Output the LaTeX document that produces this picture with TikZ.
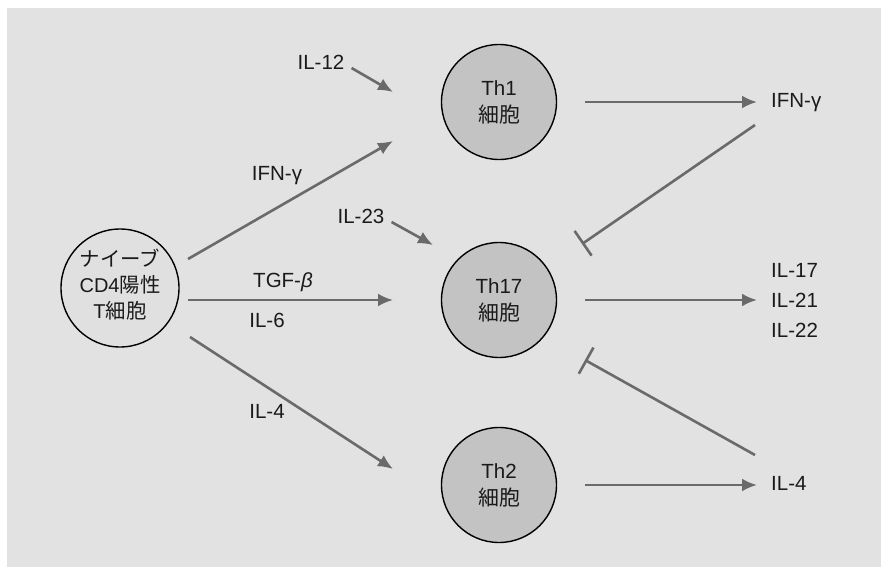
\documentclass[tikz,border=0pt]{standalone}
\usepackage{fontspec}
\setmainfont{Liberation Sans}
\newfontfamily\jp{Noto Sans CJK JP}[Scale=1.02]
\usetikzlibrary{arrows.meta}
\definecolor{bg}{HTML}{E2E2E2}
\definecolor{thfill}{HTML}{C3C3C3}
\definecolor{nvfill}{HTML}{E0E0E0}
\definecolor{arrc}{HTML}{6A6A6A}
\definecolor{ink}{HTML}{1A1A1A}
\newcommand\fsz{\fontsize{20.5}{27}\selectfont}
\begin{document}
\begin{tikzpicture}[x=1pt,y=-1pt,
  cell/.style={circle,draw=black,line width=1.4pt,minimum size=115pt,inner sep=0pt,align=center,text=ink,font=\fsz},
  lab/.style={text=ink,font=\fsz,inner sep=0pt,text height=14.5pt,text depth=4pt},
  act/.style={draw=arrc,line width=2.6pt,-{Latex[length=15pt,width=13pt]}},
  inh/.style={draw=arrc,line width=2.6pt,-{Bar[width=30pt]}}]
\useasboundingbox (0,0) rectangle (884,573);
\fill[white] (0,0) rectangle (884,573);
\fill[bg] (7,8) rectangle (881,567);

% cells
\node[cell,fill=nvfill,minimum size=118pt] (nv) at (120,288) {};
\node[text=ink,font=\fontsize{20}{26}\selectfont,inner sep=0pt,align=center] (nvt) at (120,285) {{\jp ナイーブ}\\CD4{\jp 陽性}\\T{\jp 細胞}};
\node[cell,fill=thfill] (t1) at (499,102) {Th1\\{\jp 細胞}};
\node[cell,fill=thfill] (t17) at (499,300) {Th17\\{\jp 細胞}};
\node[cell,fill=thfill] (t2) at (499,485) {Th2\\{\jp 細胞}};

% labels
\node[lab] (il12) at (321,64) {IL-12};
\node[lab] (ifnl) at (277,175) {IFN-γ};
\node[lab] (il23) at (361,218) {IL-23};
\node[lab] (tgf) at (283,282) {TGF-\textit{β}};
\node[lab] (il6) at (267,322) {IL-6};
\node[lab] (il4l) at (267,413) {IL-4};
\node[lab,anchor=west] (ifnr) at (771,102) {IFN-γ};
\node[text=ink,inner sep=0pt,anchor=west,align=left,font=\fontsize{20.5}{30}\selectfont] (outs) at (771,300) {IL-17\\IL-21\\IL-22};
\node[lab,anchor=west] (il4r) at (771,485) {IL-4};

% free ends
\coordinate (a1s) at (188,259);
\coordinate (a1e) at (393,141);
\coordinate (a2s) at (188,300);
\coordinate (a2e) at (393,300);
\coordinate (a3s) at (190,337);
\coordinate (a3e) at (393,469);
\coordinate (p12) at (393,92);
\coordinate (p23) at (433,245);
\coordinate (i1s) at (755,125);
\coordinate (i1e) at (582,244);
\coordinate (i2s) at (755,455);
\coordinate (i2e) at (585,360);

% naive -> subsets
\draw[act] (a1s) -- (a1e);
\draw[act] (a2s) -- (a2e);
\draw[act] (a3s) -- (a3e);

% cytokine inputs
\draw[act] ([shift={(7,4)}]il12.east) -- (p12);
\draw[act] ([shift={(7,4)}]il23.east) -- (p23);

% outputs
\draw[act] ([xshift=28pt]t1.east) -- ([xshift=-14pt]ifnr.west);
\draw[act] ([xshift=28pt]t17.east) -- ([xshift=-14pt]outs.west);
\draw[act] ([xshift=28pt]t2.east) -- ([xshift=-14pt]il4r.west);

% inhibition
\draw[inh] (i1s) -- (i1e);
\draw[inh] (i2s) -- (i2e);
\end{tikzpicture}
\end{document}
